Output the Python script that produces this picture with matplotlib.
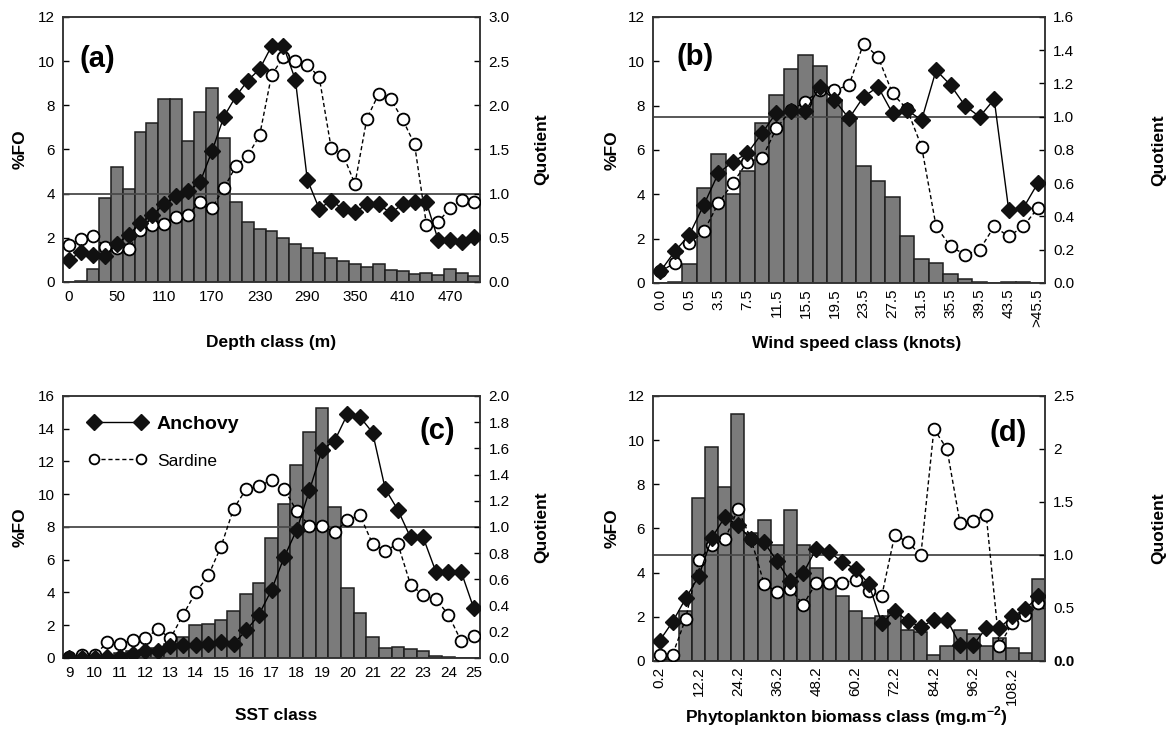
import numpy as np
import matplotlib
matplotlib.use('Agg')
import matplotlib.pyplot as plt
from matplotlib.lines import Line2D

plt.rcParams['font.family'] = ['Liberation Sans', 'DejaVu Sans']

# ---------------- (a) Depth ----------------
depth_ticklabels = ['0', '50', '110', '170', '230', '290', '350', '410', '470']
depth_fo = [0.0, 0.05, 0.6, 3.8, 5.2, 4.2, 6.8, 7.2, 8.3, 8.3, 6.4, 7.7, 8.8, 6.5, 3.6,
            2.7, 2.4, 2.3, 2.0, 1.7, 1.55, 1.3, 1.1, 0.95, 0.8, 0.7, 0.8, 0.55, 0.5,
            0.35, 0.4, 0.3, 0.6, 0.4, 0.25]
depth_anchovy = [0.25, 0.34, 0.30, 0.29, 0.43, 0.53, 0.67, 0.76, 0.88, 0.97, 1.03, 1.13,
                 1.48, 1.87, 2.10, 2.28, 2.41, 2.67, 2.67, 2.29, 1.16, 0.83, 0.92, 0.83,
                 0.79, 0.88, 0.88, 0.78, 0.88, 0.91, 0.90, 0.47, 0.47, 0.45, 0.51]
depth_sardine = [0.42, 0.49, 0.52, 0.40, 0.38, 0.37, 0.59, 0.65, 0.66, 0.74, 0.76, 0.91,
                 0.84, 1.06, 1.31, 1.43, 1.66, 2.34, 2.55, 2.50, 2.46, 2.32, 1.52, 1.44,
                 1.11, 1.85, 2.13, 2.07, 1.84, 1.56, 0.65, 0.68, 0.84, 0.93, 0.91]

# ---------------- (b) Wind speed ----------------
wind_ticklabels = ['0.0', '0.5', '3.5', '7.5', '11.5', '15.5', '19.5', '23.5', '27.5',
                   '31.5', '35.5', '39.5', '43.5', '>45.5']
wind_fo = [0.0, 0.05, 0.85, 4.3, 5.8, 4.0, 5.05, 7.2, 8.5, 9.65, 10.3, 9.8, 8.25, 7.3,
           5.3, 4.6, 3.9, 2.1, 1.1, 0.9, 0.4, 0.2, 0.05, 0.0, 0.05, 0.05, 0.0]
wind_anchovy = [0.07, 0.19, 0.29, 0.47, 0.66, 0.73, 0.78, 0.90, 1.025, 1.035, 1.035,
                1.18, 1.10, 0.99, 1.12, 1.18, 1.02, 1.04, 0.98, 1.28, 1.19, 1.065, 1.00,
                1.105, 0.44, 0.45, 0.60]
wind_sardine = [0.07, 0.12, 0.24, 0.31, 0.48, 0.60, 0.73, 0.75, 0.93, 1.04, 1.09, 1.16,
                1.16, 1.19, 1.44, 1.36, 1.14, 1.045, 0.82, 0.34, 0.22, 0.17, 0.20, 0.34,
                0.28, 0.34, 0.45]

# ---------------- (c) SST ----------------
sst_ticklabels = ['9', '10', '11', '12', '13', '14', '15', '16', '17', '18', '19', '20',
                  '21', '22', '23', '24', '25']
sst_fo = [0.0, 0.0, 0.0, 0.1, 0.3, 0.4, 0.5, 0.6, 0.85, 1.3, 2.0, 2.05, 2.35, 2.85, 3.9,
          4.55, 7.35, 9.4, 11.8, 13.8, 15.25, 9.25, 4.3, 2.75, 1.3, 0.6, 0.7, 0.55, 0.4,
          0.15, 0.05, 0.0, 0.0]
sst_anchovy = [0.0, 0.0, 0.0, 0.01, 0.01, 0.03, 0.05, 0.05, 0.09, 0.10, 0.10, 0.11, 0.12,
               0.11, 0.21, 0.33, 0.52, 0.77, 0.98, 1.28, 1.59, 1.66, 1.86, 1.84, 1.72,
               1.29, 1.13, 0.92, 0.92, 0.66, 0.66, 0.66, 0.38]
sst_sardine = [0.01, 0.02, 0.02, 0.12, 0.11, 0.135, 0.15, 0.22, 0.15, 0.33, 0.50, 0.63,
               0.85, 1.14, 1.29, 1.31, 1.36, 1.29, 1.12, 1.01, 1.01, 0.96, 1.05, 1.09,
               0.87, 0.82, 0.87, 0.56, 0.48, 0.45, 0.33, 0.13, 0.17]

# ---------------- (d) Phytoplankton ----------------
phyto_ticklabels = ['0.2', '12.2', '24.2', '36.2', '48.2', '60.2', '72.2', '84.2', '96.2',
                    '108.2']
phyto_fo = [0.0, 0.08, 2.25, 7.4, 9.7, 7.9, 11.2, 5.8, 6.4, 5.25, 6.85, 5.25, 4.2, 3.6,
            2.95, 2.25, 1.95, 2.05, 2.3, 1.4, 1.3, 0.25, 0.7, 1.4, 1.2, 0.7, 1.05, 0.6,
            0.35, 3.7]
phyto_anchovy = [0.19, 0.37, 0.59, 0.80, 1.16, 1.36, 1.28, 1.15, 1.12, 0.94, 0.75, 0.83,
                 1.06, 1.03, 0.93, 0.87, 0.73, 0.36, 0.47, 0.38, 0.32, 0.39, 0.39, 0.15,
                 0.15, 0.31, 0.31, 0.42, 0.49, 0.61]
phyto_sardine = [0.06, 0.06, 0.40, 0.95, 1.09, 1.15, 1.43, 1.15, 0.73, 0.65, 0.68, 0.53,
                 0.74, 0.74, 0.74, 0.76, 0.66, 0.61, 1.19, 1.12, 1.00, 2.19, 2.00, 1.30,
                 1.32, 1.38, 0.14, 0.36, 0.43, 0.55]

BAR_FC = '#7b7b7b'
BAR_EC = '#1e1e1e'
SPINE_C = '#333333'

fig = plt.figure(figsize=(11.76, 7.29), dpi=100)


def panel(rect, fo, anch, sard, lmax, lstep, rmax, rstep, rlabels, tick_every,
          ticklabels, rot, xlabel, xl_coords, tag, tag_xy, tag_ha, ql_x):
    ax = fig.add_axes(rect)
    n = len(fo)
    x = np.arange(n)
    ax.bar(x, fo, width=1.0, color=BAR_FC, edgecolor=BAR_EC, linewidth=1.1, zorder=2)
    ax.set_xlim(-0.5, n - 0.5)
    ax.set_ylim(0, lmax)
    ax.set_yticks(np.arange(0, lmax + 0.001, lstep))
    ax.set_yticklabels([f'{v:g}' for v in np.arange(0, lmax + 0.001, lstep)])
    ax.set_xticks(x[::tick_every][:len(ticklabels)])
    ax.set_xticklabels(ticklabels, rotation=rot)
    ax.tick_params(axis='x', length=0, pad=6 if rot == 0 else 4, labelsize=11)
    ax.tick_params(axis='y', direction='in', length=4, width=1, labelsize=11, pad=6)
    for s in ax.spines.values():
        s.set_color(SPINE_C)
        s.set_linewidth(1.1)

    ax2 = ax.twinx()
    ax2.set_ylim(0, rmax)
    rt = np.arange(0, rmax + 0.001, rstep)
    ax2.set_yticks(rt)
    ax2.set_yticklabels(rlabels)
    ax2.tick_params(axis='y', direction='in', length=4, width=1, labelsize=11, pad=6)
    ax2.axhline(1.0, color='#4a4a4a', lw=1.3, zorder=1)
    ax2.plot(x, anch, color='black', lw=1.0, marker='D', ms=8, mfc='#111111',
             mec='#111111', zorder=4)
    ax2.plot(x, sard, color='black', lw=1.0, ls=(0, (3, 2)), marker='o', ms=8.5,
             mfc='white', mec='black', mew=1.3, zorder=3)
    for s in ax2.spines.values():
        s.set_color(SPINE_C)
        s.set_linewidth(1.1)

    ax.set_ylabel('%FO', fontsize=12.5, fontweight='bold')
    ax.yaxis.set_label_coords(-0.085, 0.5)
    ax2.set_ylabel('Quotient', fontsize=12.5, fontweight='bold')
    ax2.yaxis.set_label_coords(ql_x, 0.5)
    ax.set_xlabel(xlabel, fontsize=12.5, fontweight='bold')
    ax.xaxis.set_label_coords(*xl_coords)
    ax.text(tag_xy[0], tag_xy[1], tag, transform=ax.transAxes, fontsize=21,
            fontweight='bold', ha=tag_ha, va='center', zorder=6)
    return ax, ax2


# (a)
panel([0.0536, 0.6132, 0.3546, 0.3635], depth_fo, depth_anchovy, depth_sardine,
      12, 2, 3.0, 0.5, ['0.0', '0.5', '1.0', '1.5', '2.0', '2.5', '3.0'], 4,
      depth_ticklabels, 0, 'Depth class (m)', (0.5, -0.2), '(a)', (0.04, 0.84), 'left',
      1.13)

# (b)
panel([0.5553, 0.6118, 0.3333, 0.3649], wind_fo, wind_anchovy, wind_sardine,
      12, 2, 1.6, 0.2, ['0.0', '0.2', '0.4', '0.6', '0.8', '1.0', '1.2', '1.4', '1.6'], 2,
      wind_ticklabels, 90, 'Wind speed class (knots)', (0.52, -0.2), '(b)',
      (0.06, 0.85), 'left', 1.27)

# (c)
axc, axc2 = panel([0.0536, 0.0974, 0.3546, 0.3594], sst_fo, sst_anchovy, sst_sardine,
                  16, 2, 2.0, 0.2,
                  ['0.0', '0.2', '0.4', '0.6', '0.8', '1.0', '1.2', '1.4', '1.6', '1.8', '2.0'],
                  2, sst_ticklabels, 0, 'SST class', (0.51, -0.19), '(c)', (0.94, 0.865),
                  'right', 1.13)
h1 = Line2D([], [], color='black', lw=1.0, marker='D', ms=8, mfc='#111111', mec='#111111')
h2 = Line2D([], [], color='black', lw=1.0, ls=(0, (3, 2)), marker='o', ms=7,
            mfc='white', mec='black', mew=1.3)
leg = axc2.legend([h1, h2], ['Anchovy', 'Sardine'], loc='upper left', frameon=False,
                  fontsize=12.5, handlelength=3.3, labelspacing=1.2, numpoints=2,
                  bbox_to_anchor=(0.025, 0.985), handletextpad=0.6)
leg.get_texts()[0].set_fontweight('bold')
leg.get_texts()[0].set_fontsize(14)

# (d)
axd, axd2 = panel([0.5553, 0.0933, 0.3333, 0.3635], phyto_fo, phyto_anchovy, phyto_sardine,
                  12, 2, 2.5, 0.5, ['0.0', '0.5', '1.0', '1.5', '2', '2.5'], 3,
                  phyto_ticklabels, 90, 'Phytoplankton biomass class (mg.m$^{\\mathregular{-2}}$)',
                  (0.494, -0.165), '(d)', (0.955, 0.86), 'right', 1.27)
axd2.get_yticklabels()[0].set_fontweight('bold')

fig.savefig('out.png', dpi=100)
